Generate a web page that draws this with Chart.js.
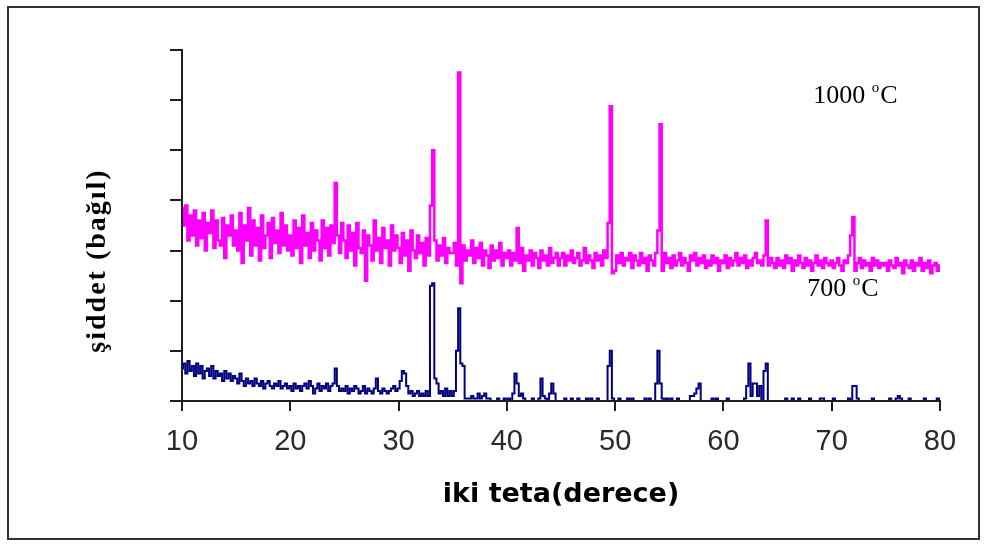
<!DOCTYPE html>
<html><head><meta charset="utf-8">
<script src="https://cdn.jsdelivr.net/npm/chart.js@4.4.1/dist/chart.umd.min.js"></script>
<style>html,body{margin:0;padding:0;background:#fff}canvas{display:block}</style>
</head><body>
<canvas id="c" width="988" height="545"></canvas>
<script>
// 2θ measurement grid
const START_2THETA = 10;
const STEP_2THETA = 0.2;
const xTickLabels = [10, 20, 30, 40, 50, 60, 70, 80];
const yTickValues = [0, 1, 2, 3, 4, 5, 6, 7];

// intensity (relative units), 10.0° .. 80.0° every 0.2°
const intensity1000C = [
3.85,3.5,3.9,3.2,3.7,3.3,3.8,3.1,3.6,3.25,3.75,3.0,3.55,3.35,3.8,3.05,3.6,3.2,3.1,3.65,2.85,3.5,3.3,3.7,3.1,
3.4,3.0,3.75,2.75,3.5,3.2,3.85,2.9,3.6,3.1,3.45,2.8,3.7,3.05,3.3,3.55,2.85,3.65,3.15,3.4,2.95,3.75,3.1,3.5,3.0,
3.3,2.9,3.6,3.05,3.45,2.75,3.7,3.1,3.35,2.85,3.55,3.0,3.4,3.2,2.8,3.6,3.05,3.45,2.9,3.5,3.15,4.35,3.3,2.95,3.55,
3.2,2.85,3.5,3.0,3.35,2.7,3.55,3.05,2.95,3.4,2.4,3.3,3.1,2.8,3.6,3.0,3.25,2.75,3.45,3.05,3.2,2.7,3.5,3.0,3.3,
3.05,2.75,3.35,2.9,3.2,2.6,3.4,3.0,2.85,3.3,2.95,3.15,2.7,3.25,2.9,3.9,5.0,3.2,2.8,3.1,2.9,3.25,2.75,3.05,2.95,
2.95,3.15,2.7,6.55,2.35,3.1,2.8,3.0,2.9,3.2,2.75,3.05,2.85,3.15,2.7,3.0,2.9,2.65,3.1,2.8,3.0,2.85,3.15,2.7,2.95,
2.85,3.0,2.7,2.95,2.8,3.45,2.75,3.05,2.6,2.9,2.8,3.0,2.7,2.95,2.85,2.65,3.0,2.8,2.9,2.7,3.05,2.75,2.85,2.95,2.7,
2.85,2.95,2.7,2.9,2.8,3.0,2.75,2.85,2.95,2.7,2.8,3.05,2.75,2.9,2.8,2.65,2.95,2.8,2.9,2.7,3.0,2.85,3.55,5.88,2.55,
2.6,2.9,2.75,2.95,2.7,2.85,2.8,2.95,2.65,2.9,2.8,2.7,2.95,2.75,2.85,2.6,2.9,2.8,2.7,2.95,3.4,5.52,2.6,2.95,2.75,
2.85,2.65,2.9,2.7,2.8,2.95,2.7,2.85,2.75,2.6,2.9,2.8,2.95,2.7,2.85,2.75,2.9,2.65,2.8,2.7,2.9,2.75,2.85,2.6,2.8,
2.75,2.9,2.65,2.85,2.7,2.8,2.95,2.7,2.85,2.75,2.9,2.65,2.8,2.7,2.85,2.95,2.75,2.8,2.7,2.9,3.6,2.7,2.85,2.75,2.65,
2.85,2.7,2.8,2.65,2.9,2.75,2.85,2.6,2.8,2.7,2.9,2.75,2.65,2.85,2.7,2.8,2.6,2.75,2.9,2.7,2.8,2.65,2.85,2.75,2.7,
2.8,2.65,2.75,2.85,2.7,2.6,2.8,2.75,2.9,3.3,3.67,2.6,2.75,2.85,2.65,2.8,2.7,2.75,2.6,2.85,2.7,2.8,2.65,2.75,2.7,
2.75,2.6,2.8,2.7,2.65,2.85,2.7,2.75,2.55,2.8,2.7,2.65,2.8,2.6,2.75,2.7,2.85,2.6,2.75,2.65,2.8,2.55,2.7,2.75,2.6,2.7
];
const intensity700C = [
0.65,0.75,0.55,0.8,0.6,0.7,0.5,0.75,0.55,0.7,0.45,0.6,0.65,0.5,0.7,0.45,0.6,0.5,0.55,0.4,0.6,0.45,0.55,0.4,0.5,
0.45,0.35,0.55,0.4,0.3,0.45,0.35,0.4,0.3,0.45,0.35,0.3,0.4,0.25,0.35,0.4,0.3,0.25,0.35,0.3,0.4,0.25,0.3,0.35,0.25,
0.3,0.2,0.35,0.25,0.3,0.2,0.3,0.35,0.25,0.4,0.3,0.15,0.25,0.35,0.2,0.3,0.25,0.35,0.2,0.3,0.35,0.65,0.3,0.2,0.25,
0.2,0.3,0.15,0.25,0.2,0.3,0.25,0.15,0.2,0.3,0.15,0.25,0.2,0.15,0.25,0.45,0.2,0.15,0.25,0.2,0.15,0.2,0.25,0.3,0.2,
0.25,0.4,0.6,0.55,0.3,0.15,0.2,0.1,0.15,0.2,0.1,0.15,0.1,0.2,0.1,2.3,2.35,0.45,0.35,0.15,0.2,0.1,0.25,0.1,0.2,
0.1,0.2,1.0,1.85,0.75,0.7,0.05,0.05,0.05,0.1,0.05,0.05,0.15,0.05,0.1,0.15,0.05,0.05,0.0,0.0,0.0,0.05,0.0,0.0,0.05,
0.0,0.05,0.0,0.15,0.55,0.35,0.1,0.15,0.05,0.0,0.0,0.0,0.05,0.0,0.0,0.05,0.45,0.1,0.05,0.0,0.15,0.35,0.15,0.0,0.0,
0.0,0.0,0.05,0.0,0.0,0.05,0.0,0.0,0.05,0.0,0.0,0.0,0.05,0.0,0.05,0.0,0.0,0.05,0.0,0.0,0.0,0.0,0.7,1.0,0.05,
0.0,0.0,0.05,0.0,0.0,0.0,0.05,0.0,0.05,0.0,0.0,0.0,0.0,0.0,0.05,0.0,0.05,0.0,0.0,0.35,1.0,0.35,0.05,0.0,0.05,
0.0,0.05,0.0,0.0,0.05,0.0,0.0,0.0,0.0,0.0,0.1,0.1,0.15,0.25,0.35,0.0,0.0,0.0,0.0,0.0,0.05,0.0,0.05,0.0,0.0,
0.0,0.0,0.05,0.0,0.0,0.0,0.0,0.0,0.0,0.0,0.05,0.3,0.75,0.1,0.35,0.35,0.1,0.3,0.0,0.6,0.75,0.0,0.0,0.0,0.0,
0.0,0.0,0.0,0.0,0.05,0.0,0.0,0.05,0.0,0.0,0.05,0.0,0.0,0.0,0.0,0.05,0.0,0.0,0.0,0.0,0.05,0.05,0.0,0.0,0.0,
0.0,0.05,0.0,0.0,0.0,0.0,0.0,0.0,0.05,0.0,0.3,0.3,0.05,0.0,0.0,0.0,0.0,0.0,0.0,0.05,0.0,0.0,0.0,0.0,0.0,
0.0,0.0,0.05,0.0,0.0,0.05,0.1,0.05,0.0,0.0,0.0,0.05,0.0,0.0,0.0,0.0,0.0,0.0,0.05,0.0,0.0,0.0,0.0,0.0,0.05,0.0
];
const seriesLabels = ['1000 °C', '700 °C'];
const yAxisTitle = 'şiddet (bağıl)';
const xAxisTitle = 'iki teta(derece)';
// text labels placed in data coordinates (2θ, intensity)
const seriesTags = [
  { num: '1000', x: 68.3, y: 5.94 },
  { num: '700', x: 67.75, y: 2.09 }
];

const twoTheta = intensity1000C.map((_, i) => +(START_2THETA + i * STEP_2THETA).toFixed(1));
const toPoints = arr => arr.map((v, i) => ({ x: twoTheta[i], y: v }));

const AXIS = '#1e1e1e';
const SERIF = '"Liberation Serif", "Times New Roman", serif';

const framePlugin = {
  id: 'frame',
  beforeDraw(chart) {
    const ctx = chart.ctx;
    ctx.save();
    ctx.fillStyle = '#fff';
    ctx.fillRect(0, 0, chart.width, chart.height);
    ctx.strokeStyle = '#333';
    ctx.lineWidth = 2;
    ctx.strokeRect(8, 7, chart.width - 17, chart.height - 13);
    ctx.restore();
  }
};

const textPlugin = {
  id: 'texts',
  afterDraw(chart) {
    const ctx = chart.ctx;
    const xs = chart.scales.x, ys = chart.scales.y;
    const area = chart.chartArea;
    ctx.save();
    // y axis title
    ctx.translate(area.left - 84, (area.top + area.bottom) / 2 + 35);
    ctx.rotate(-Math.PI / 2);
    ctx.font = 'bold 28px ' + SERIF;
    ctx.letterSpacing = '2px';
    ctx.fillStyle = '#000';
    ctx.textAlign = 'center';
    ctx.textBaseline = 'middle';
    ctx.fillText(yAxisTitle, 0, 0);
    ctx.restore();

    ctx.save();
    ctx.fillStyle = '#000';
    ctx.textBaseline = 'alphabetic';
    ctx.textAlign = 'left';
    seriesTags.forEach(t => {
      const px = xs.getPixelForValue(t.x);
      const py = ys.getPixelForValue(t.y);
      ctx.font = '26px ' + SERIF;
      const a = t.num + ' ';
      ctx.fillText(a, px, py);
      let w = ctx.measureText(a).width;
      ctx.font = '15px ' + SERIF;
      ctx.fillText('o', px + w, py - 11);
      w += ctx.measureText('o').width + 1;
      ctx.font = '26px ' + SERIF;
      ctx.fillText('C', px + w, py);
    });
    ctx.restore();
  }
};

new Chart(document.getElementById('c'), {
  type: 'line',
  data: {
    datasets: [
      { label: seriesLabels[0], data: toPoints(intensity1000C), borderColor: '#FF00FF', borderWidth: 2.5,
        pointRadius: 0, stepped: 'middle', fill: false },
      { label: seriesLabels[1], data: toPoints(intensity700C), borderColor: '#000080', borderWidth: 2,
        pointRadius: 0, stepped: 'middle', fill: false }
    ]
  },
  options: {
    responsive: false,
    animation: false,
    devicePixelRatio: 1,
    layout: { padding: { left: 0, top: 50, right: 48, bottom: 0 } },
    plugins: { legend: { display: false }, tooltip: { enabled: false } },
    scales: {
      x: {
        type: 'linear', min: 10, max: 80,
        afterBuildTicks: s => { s.ticks = xTickLabels.map(v => ({ value: v })); },
        afterFit: s => { s.height = 144; },
        grid: { drawOnChartArea: false, drawTicks: true, tickLength: 10, color: AXIS, lineWidth: 2 },
        border: { display: true, color: AXIS, width: 2, z: 1 },
        ticks: { color: '#2a2a2a', padding: 14, maxRotation: 0, autoSkip: false,
                 font: { family: '"Liberation Sans Narrow", "Liberation Sans", sans-serif', size: 29 } },
        title: { display: true, text: xAxisTitle, color: '#000',
                 font: { family: '"DejaVu Sans", sans-serif', size: 27, weight: 'bold' },
                 padding: { top: 0, bottom: 34 } }
      },
      y: {
        type: 'linear', min: 0, max: 7,
        afterBuildTicks: s => { s.ticks = yTickValues.map(v => ({ value: v })); },
        afterFit: s => { s.width = 182; },
        grid: { drawOnChartArea: false, drawTicks: true, tickLength: 12, color: AXIS, lineWidth: 2 },
        border: { display: true, color: AXIS, width: 2, z: 1 },
        ticks: { display: false }
      }
    }
  },
  plugins: [framePlugin, textPlugin]
});
</script>
</body></html>
